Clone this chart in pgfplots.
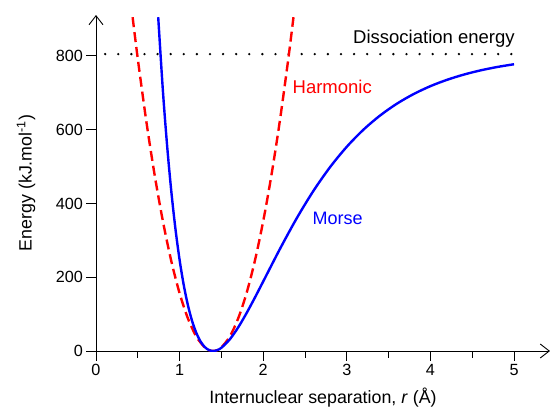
\documentclass[border=0pt]{standalone}
\usepackage{fontspec}
\setmainfont{Liberation Sans}
\usepackage{pgfplots}
\pgfplotsset{compat=1.18}
\usetikzlibrary{arrows.meta}
\begin{document}
\begin{tikzpicture}
\path[use as bounding box] (-96pt,-59pt) rectangle (456pt,351pt);
\begin{axis}[
    at={(0pt,0pt)}, anchor=origin,
    scale only axis,
    width=454pt, height=336pt,
    xmin=0, xmax=5.43, ymin=0, ymax=911,
    axis lines=left,
    axis line style={line width=0.9pt, -{Straight Barb[length=9pt,width=14pt,line width=0.9pt]}},
    tick align=outside,
    xtick={0,1,2,3,4,5},
    minor xtick={0.5,1.5,2.5,3.5,4.5},
    ytick={0,200,400,600,800},
    major tick length=9.5pt, minor tick length=6.5pt,
    tick style={line width=0.9pt, black},
    /pgf/number format/assume math mode=true,
    tick label style={font=\fontsize{16.2pt}{19pt}\selectfont},
    every axis x label/.style={at={(axis description cs:0.5,0)}, anchor=base, yshift=-52pt,
        font=\fontsize{17.8pt}{20pt}\selectfont},
    every axis y label/.style={at={(axis description cs:0,0.5)}, rotate=90, anchor=center, yshift=70pt,
        font=\fontsize{17.8pt}{20pt}\selectfont},
    xlabel={Internuclear separation, \textit{r} (Å)},
    ylabel={Energy (kJ.mol\textsuperscript{-1})},
    clip=true,
]
% dissociation energy
\addplot[black, line width=2.6pt, line cap=round, dash pattern=on 0pt off 13.1pt] coordinates {(0.11,805) (5.0,805)};
% harmonic
\addplot[red, line width=2.4pt, dash pattern=on 10pt off 5pt, smooth] coordinates {
(0.438,905) (0.5,791.9) (0.6,625.7) (0.7,479.1) (0.8,352.0) (0.9,244.4) (1.0,156.4)
(1.1,88.0) (1.2,39.1) (1.3,9.8) (1.35,2.4) (1.4,0) (1.45,2.4) (1.5,9.8) (1.6,39.1)
(1.7,88.0) (1.8,156.4) (1.9,244.4) (2.0,352.0) (2.1,479.1) (2.2,625.7) (2.3,791.9) (2.362,905)
};
% morse
\addplot[blue, line width=2.4pt, smooth] coordinates {
(0.744,905) (0.8,706.1) (0.85,558.4) (0.9,434.5) (0.95,331.5) (1.0,246.8) (1.05,178.2)
(1.1,123.5) (1.15,81.0) (1.2,48.9) (1.25,26.0) (1.3,10.9) (1.35,2.6) (1.4,0) (1.45,2.3)
(1.5,8.8) (1.6,31.5) (1.7,63.8) (1.8,102.4) (1.9,144.6) (2.0,188.6) (2.2,276.7)
(2.4,359.6) (2.6,434.0) (2.8,498.7) (3.0,553.9) (3.2,600.3) (3.4,638.9) (3.6,670.7)
(3.8,696.8) (4.0,718.1) (4.2,735.4) (4.4,749.5) (4.6,760.9) (4.8,770.1) (5.0,777.5)
};
\node[anchor=base east, inner sep=0pt, font=\fontsize{18.5pt}{20pt}\selectfont] at (axis cs:5.01,835) {Dissociation energy};
\node[anchor=base west, inner sep=0pt, text=red, font=\fontsize{18.5pt}{20pt}\selectfont] at (axis cs:2.35,699) {Harmonic};
\node[anchor=base west, inner sep=0pt, text=blue, font=\fontsize{18pt}{20pt}\selectfont] at (axis cs:2.59,344) {Morse};
\end{axis}
\end{tikzpicture}
\end{document}
